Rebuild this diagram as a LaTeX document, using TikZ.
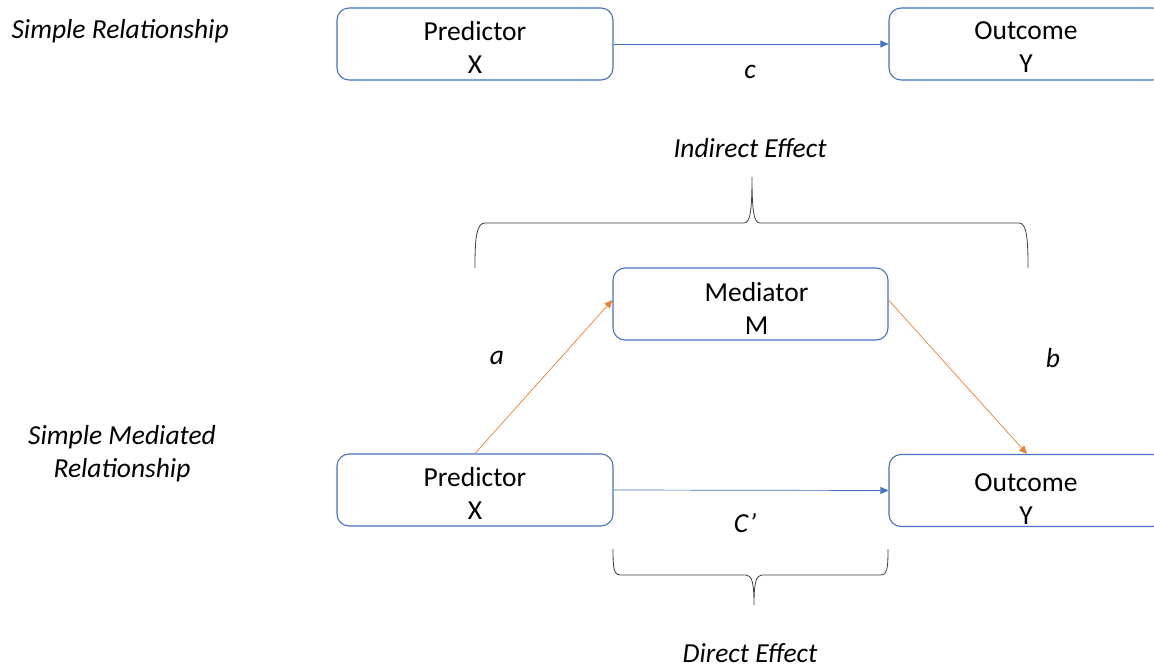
\documentclass[tikz,border=0pt]{standalone}
\usepackage{fontspec}
\setmainfont{Carlito}
\usetikzlibrary{arrows.meta}
\definecolor{boxblue}{HTML}{4472C4}
\definecolor{arrorange}{HTML}{ED7D31}
\begin{document}
\begin{tikzpicture}[x=1pt,y=-1pt,
  every node/.style={font=\fontsize{27.5}{33}\selectfont},
  varbox/.style={draw=boxblue,line width=1.1pt,rounded corners=12pt,minimum width=276pt,minimum height=72pt,inner sep=0pt},
  boxtext/.style={align=center,inner sep=0pt},
  lbl/.style={font=\fontsize{27.5}{33}\selectfont\itshape,align=center},
  bluearrow/.style={draw=boxblue,line width=0.7pt,-{Triangle[length=8pt,width=7pt]}},
  orangearrow/.style={draw=arrorange,line width=0.7pt,-{Triangle[length=8pt,width=7pt]}},
  bracepath/.style={draw=black!75,line width=0.8pt}]
\useasboundingbox (0,0) rectangle (1154,670);
\begin{scope}
\clip (0,0) rectangle (1154,670);
% top row
\node[varbox] (px1) at (475,44) {};
\node[boxtext] (px1t) at ([yshift=-3pt]px1.center) {Predictor\\X};
\node[varbox] (oy1) at (1027,44) {};
\node[boxtext] (oy1t) at ([xshift=-1pt,yshift=-3pt]oy1.center) {Outcome\\Y};
\draw[bluearrow] (px1.east) -- (oy1.west);
\node[lbl] (c) at (750,72) {c};
\node[lbl,anchor=west] (sr) at (8,31) {Simple Relationship};
% indirect effect
\node[lbl] (ie) at (750,148) {Indirect Effect};
\draw[bracepath] (475,268) .. controls (475,240) and (476,223) .. (485,223) -- (744,223) .. controls (750,223) and (752,212) .. (752,177) .. controls (752,212) and (754,223) .. (760,223) -- (1019,223) .. controls (1027,223) and (1028,240) .. (1028,268);
% mediator
\node[varbox,minimum width=275pt] (med) at (750.5,304) {};
\node[boxtext] (medt) at ([xshift=6pt,yshift=-4pt]med.center) {Mediator\\M};
% bottom row
\node[varbox] (px2) at (475,490) {};
\node[boxtext] (px2t) at ([yshift=-3pt]px2.center) {Predictor\\X};
\node[varbox] (oy2) at (1027,490.5) {};
\node[boxtext] (oy2t) at ([xshift=-1pt,yshift=-9pt]oy2.center) {Outcome\\Y};
\draw[bluearrow] (px2.east) -- (oy2.west);
\draw[orangearrow] (px2.north) -- ([yshift=4pt]med.west);
\draw[orangearrow] ([yshift=4pt]med.east) -- (oy2.north);
\node[lbl] (a) at (497,358) {a};
\node[lbl] (b) at (1053,358) {b};
\node[lbl] (cp) at (745,523) {C’};
\node[lbl] (smr) at (122,454) {Simple Mediated\\Relationship};
% direct effect
\draw[bracepath] (613,549) .. controls (613,570) and (614,575) .. (621,575) -- (746,575) .. controls (752,575) and (754,583) .. (754,605) .. controls (754,583) and (756,575) .. (762,575) -- (880,575) .. controls (887,575) and (888,570) .. (888,549);
\node[lbl] (de) at (750,653) {Direct Effect};
\end{scope}
\end{tikzpicture}
\end{document}
